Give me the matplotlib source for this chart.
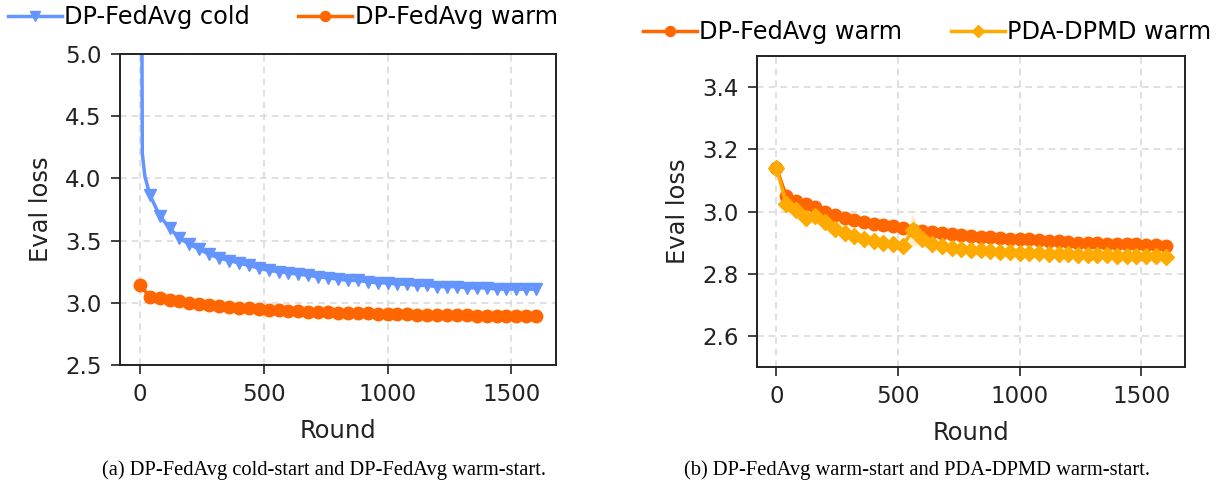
import numpy as np
import matplotlib
matplotlib.use('Agg')
import matplotlib.pyplot as plt

# evaluation rounds (every 40 rounds), cold start also has a few early evals
rounds = list(range(0, 1601, 40))
cold_rounds = [0, 10, 20] + rounds[1:]

cold_loss = [10.0, 4.2, 4.02,
             3.87, 3.70, 3.60, 3.52, 3.47, 3.43, 3.39, 3.36, 3.34, 3.32,
             3.30, 3.28, 3.26, 3.25, 3.24, 3.23, 3.22, 3.21, 3.20, 3.19,
             3.18, 3.18, 3.17, 3.16, 3.16, 3.15, 3.15, 3.14, 3.14, 3.13,
             3.13, 3.13, 3.12, 3.12, 3.12, 3.11, 3.11, 3.11, 3.11, 3.11]

fedavg_warm = [3.14, 3.05, 3.035, 3.025, 3.015, 3.00, 2.99, 2.98, 2.972,
               2.966, 2.96, 2.956, 2.952, 2.946, 2.94, 2.936, 2.933, 2.93,
               2.927, 2.924, 2.921, 2.919, 2.917, 2.915, 2.913, 2.912, 2.91,
               2.908, 2.906, 2.904, 2.902, 2.90, 2.899, 2.898, 2.897, 2.896,
               2.895, 2.894, 2.893, 2.892, 2.89]

pda_warm = [3.14, 3.025, 3.005, 2.98, 2.985, 2.965, 2.945, 2.93, 2.92,
            2.912, 2.905, 2.90, 2.895, 2.89, 2.94, 2.91, 2.895, 2.888,
            2.884, 2.88, 2.877, 2.875, 2.873, 2.871, 2.87, 2.868, 2.866,
            2.865, 2.864, 2.863, 2.862, 2.861, 2.86, 2.86, 2.859, 2.858,
            2.857, 2.857, 2.856, 2.856, 2.855]
# spread shown as a faint band (only visible around round 560)
pda_std = [0.0] * 14 + [0.055] + [0.0] * 26

c_cold = '#6495ff'
c_warm = '#ff6600'
c_pda = '#ffaa00'

tick_fs = 16.5
lab_fs = 17.5
leg_fs = 17.3

fig = plt.figure(figsize=(12.21, 4.87), dpi=100)
ax1 = fig.add_axes([0.0983, 0.2505, 0.3571, 0.6386])
ax2 = fig.add_axes([0.620, 0.2464, 0.3505, 0.6386])

for ax in (ax1, ax2):
    ax.grid(True, linestyle=(0, (4, 3)), color='#dadada', linewidth=1.2)
    ax.set_axisbelow(True)
    ax.tick_params(labelsize=tick_fs, length=6.8, width=1.3, pad=6.5,
                   colors='#333333', labelcolor='#222222')
    for s in ax.spines.values():
        s.set_linewidth(1.4)
        s.set_color('#222222')
    ax.set_xlim(-80, 1680)
    ax.set_xticks([0, 500, 1000, 1500])
    ax.set_xlabel('Round', fontsize=lab_fs, color='#222222', labelpad=9)
    ax.set_ylabel('Eval loss', fontsize=lab_fs, color='#222222', labelpad=9)

# (a) cold vs warm
ax1.plot(cold_rounds, cold_loss, color=c_cold, marker='v', ms=9, lw=2.5,
         markevery=[0] + list(range(3, len(cold_rounds))),
         label='DP-FedAvg cold')
ax1.plot(rounds, fedavg_warm, color=c_warm, marker='o', ms=9, lw=2.5,
         label='DP-FedAvg warm')
ax1.set_ylim(2.5, 5.0)
ax1.set_yticks([2.5, 3.0, 3.5, 4.0, 4.5, 5.0])

# (b) warm vs PDA-DPMD warm
lo = np.array(pda_warm) - np.array(pda_std)
hi = np.array(pda_warm) + np.array(pda_std)
ax2.fill_between(rounds, lo, hi, color=c_pda, alpha=0.2, lw=0)
ax2.plot(rounds, fedavg_warm, color=c_warm, marker='o', ms=9, lw=2.5,
         label='DP-FedAvg warm')
ax2.plot(rounds, pda_warm, color=c_pda, marker='D', ms=8, lw=2.5,
         label='PDA-DPMD warm')
ax2.set_ylim(2.5, 3.5)
ax2.set_yticks([2.6, 2.8, 3.0, 3.2, 3.4])

leg_kw = dict(ncol=2, frameon=False, fontsize=leg_fs, borderpad=0,
              handlelength=2.25, handletextpad=0.1, columnspacing=2.0,
              borderaxespad=0, markerscale=0.8)
h, l = ax1.get_legend_handles_labels()
fig.legend(h, l, loc='center left', bbox_to_anchor=(8 / 1221, 1 - 17 / 487),
           **leg_kw)
h, l = ax2.get_legend_handles_labels()
fig.legend(h, l, loc='center left', bbox_to_anchor=(643 / 1221, 1 - 32 / 487),
           **leg_kw)

fig.text(324 / 1221, 1 - 470 / 487,
         '(a) DP-FedAvg cold-start and DP-FedAvg warm-start.',
         ha='center', va='center', fontsize=14.8, family='Liberation Serif')
fig.text(917 / 1221, 1 - 470 / 487,
         '(b) DP-FedAvg warm-start and PDA-DPMD warm-start.',
         ha='center', va='center', fontsize=14.8, family='Liberation Serif')

fig.savefig('out.png', dpi=100)
